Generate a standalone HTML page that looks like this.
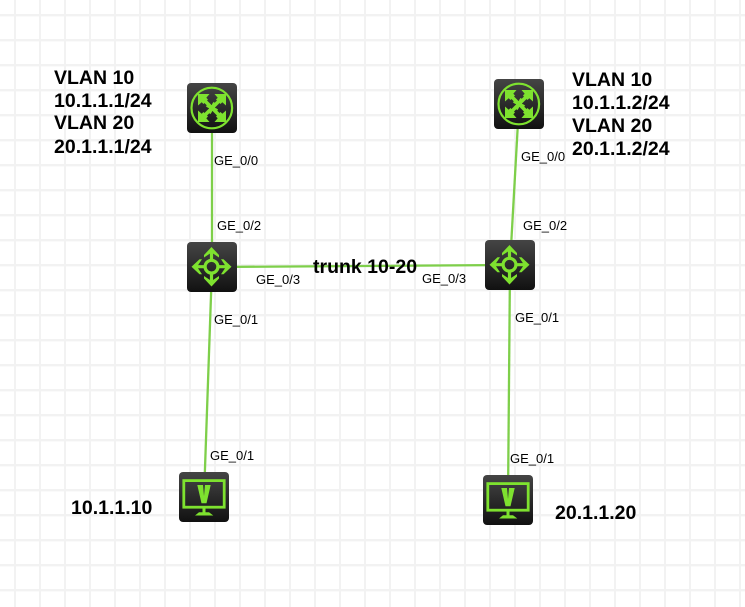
<!DOCTYPE html>
<html><head><meta charset="utf-8">
<style>
html,body{margin:0;padding:0;background:#fff}
svg{display:block}
.s{font:13px "Liberation Sans",sans-serif;fill:#000}
.b{font:bold 19.5px "Liberation Sans",sans-serif;fill:#000}
</style></head>
<body>
<svg width="745" height="607" viewBox="0 0 745 607" xmlns="http://www.w3.org/2000/svg">
<defs>
<pattern id="g" width="25" height="25" patternUnits="userSpaceOnUse" x="0" y="0">
<rect x="14" y="0" width="2" height="25" fill="#f2f2f2"/>
<rect x="0" y="14" width="25" height="2.4" fill="#f2f2f2"/>
</pattern>
<linearGradient id="d" x1="0" y1="0" x2="0" y2="1"><stop offset="0" stop-color="#454545"/><stop offset="1" stop-color="#111"/></linearGradient>
<g id="arm">
<path d="M11 11H22.5L19.3 14.7L21 16.5L16.5 21L14.7 19.3L11 22.5Z" fill="#7ee22f"/>
<path d="M16 16L22.5 22.5Q25.5 25.5 22 30" fill="none" stroke="#7ee22f" stroke-width="3.6"/>
</g>
<g id="router">
<rect width="50" height="50" rx="4" fill="url(#d)"/>
<circle cx="24.8" cy="25" r="20.3" fill="none" stroke="#7ee22f" stroke-width="2.2"/>
<use href="#arm"/>
<use href="#arm" transform="rotate(90 25 25)"/>
<use href="#arm" transform="rotate(180 25 25)"/>
<use href="#arm" transform="rotate(270 25 25)"/>
</g>
<g id="switch">
<rect width="50" height="50" rx="4" fill="url(#d)"/>
<g fill="none" stroke="#7ee22f" stroke-width="3.2"><circle cx="24.5" cy="24.7" r="6.4"/>
<path d="M24.5 18V8M24.5 31.5V42M18 24.7H8M31 24.7H41"/>
</g>
<g fill="#7ee22f">
<path d="M24.5 5L32 13V15.5L24.5 10.5L17 15.5V13Z"/>
<path d="M24.5 44.5L32 36.5V34L24.5 39L17 34V36.5Z"/>
<path d="M4.5 24.7L12.5 17.2H15L10 24.7L15 32.2H12.5Z"/>
<path d="M44.5 24.7L36.5 17.2H34L39 24.7L34 32.2H36.5Z"/>
<path d="M24.5 7L30 12.5L24.5 11L19 12.5Z"/>
<path d="M24.5 42.5L30 37L24.5 38.5L19 37Z"/>
<path d="M6.5 24.7L12 19.2L10.5 24.7L12 30.2Z"/>
<path d="M42.5 24.7L37 19.2L38.5 24.7L37 30.2Z"/>
</g>
</g>
<g id="pc">
<rect width="50" height="50" rx="4" fill="url(#d)"/>
<rect x="4.8" y="8.6" width="40.4" height="26.6" fill="none" stroke="#7ee22f" stroke-width="2.8"/>
<path d="M18.3 13H24L25 24L26 13H31.7L27.5 31.3H22.5Z" fill="#7ee22f"/>
<path d="M23.5 36H26.5V40.3H30L34.3 43.5H16L20 40.3H23.5Z" fill="#7ee22f"/>
</g>
</defs>
<rect width="745" height="607" fill="#fff"/>
<rect width="745" height="607" fill="url(#g)"/>
<g stroke="#7ecf4a" stroke-width="2.3" fill="none">
<path d="M212 108V267"/>
<path d="M212 267L204 497"/>
<path d="M519 104L510 265"/>
<path d="M510 265L508 500"/>
<path d="M212 267L510 265"/>
</g>
<use href="#router" x="187" y="83"/>
<use href="#router" x="494" y="79"/>
<use href="#switch" x="187" y="242"/>
<use href="#switch" x="485" y="240"/>
<use href="#pc" x="179" y="472"/>
<use href="#pc" x="483" y="475"/>
<text class="s" x="214" y="165">GE_0/0</text>
<text class="s" x="217" y="230">GE_0/2</text>
<text class="s" x="256" y="284">GE_0/3</text>
<text class="s" x="214" y="324">GE_0/1</text>
<text class="s" x="210" y="460">GE_0/1</text>
<text class="s" x="521" y="161">GE_0/0</text>
<text class="s" x="523" y="230">GE_0/2</text>
<text class="s" x="422" y="283">GE_0/3</text>
<text class="s" x="515" y="322">GE_0/1</text>
<text class="s" x="510" y="463">GE_0/1</text>
<text class="b" x="54" y="84">VLAN 10</text>
<text class="b" x="54" y="107">10.1.1.1/24</text>
<text class="b" x="54" y="129">VLAN 20</text>
<text class="b" x="54" y="153">20.1.1.1/24</text>
<text class="b" x="572" y="86">VLAN 10</text>
<text class="b" x="572" y="109">10.1.1.2/24</text>
<text class="b" x="572" y="132">VLAN 20</text>
<text class="b" x="572" y="155">20.1.1.2/24</text>
<text class="b" x="313" y="273">trunk 10-20</text>
<text class="b" x="71" y="514">10.1.1.10</text>
<text class="b" x="555" y="519">20.1.1.20</text>
</svg>
</body></html>
